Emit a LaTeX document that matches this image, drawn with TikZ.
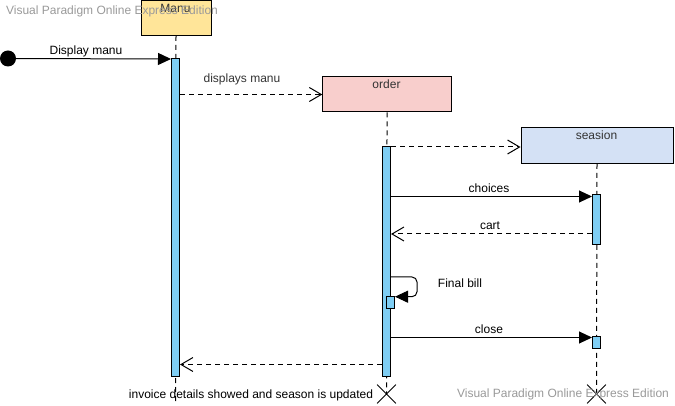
\documentclass[tikz,border=0pt]{standalone}
\usepackage{fontspec}
\setmainfont{Liberation Sans}
\usetikzlibrary{arrows.meta,shapes.misc}
\definecolor{manuyellow}{HTML}{FFE599}
\definecolor{orderpink}{HTML}{F8CECC}
\definecolor{seasonblue}{HTML}{D4E1F5}
\definecolor{barblue}{HTML}{7FCEF4}
\definecolor{wmgray}{HTML}{999999}
\definecolor{labgray}{HTML}{333333}
\begin{document}
\begin{tikzpicture}[x=1pt,y=-1pt,
  box/.style={draw=black, line width=1pt, anchor=north west, inner sep=0pt},
  bar/.style={draw=black, line width=1pt, fill=barblue, anchor=north, minimum width=8pt, inner sep=0pt},
  lifeline/.style={draw=black, line width=1pt, dash pattern=on 5pt off 4pt},
  msg/.style={line width=1pt, -{Triangle[length=13pt,width=12pt]}},
  ret/.style={line width=1pt, dash pattern=on 5pt off 4pt, -{Straight Barb[length=12pt,width=14pt,line width=1pt]}},
  blab/.style={font=\fontsize{12}{14}\selectfont, text=black, inner sep=0pt},
  glab/.style={font=\fontsize{12}{14}\selectfont, text=labgray, inner sep=0pt},
  wm/.style={font=\fontsize{12}{14}\selectfont, text=wmgray, inner sep=0pt},
  xmark/.style={cross out, draw=black, line width=0.8pt, minimum size=18pt, inner sep=0pt}
]
\useasboundingbox (0,0) rectangle (675,406);

% y levels
\coordinate (yd) at (0,59);
\coordinate (y2) at (0,94.5);
\coordinate (y3) at (0,147);
\coordinate (y4) at (0,196.5);
\coordinate (y5) at (0,234);
\coordinate (y6) at (0,277);
\coordinate (y7) at (0,296.7);
\coordinate (y8) at (0,337.5);
\coordinate (y9) at (0,364.5);

% lifeline heads
\node[box, fill=manuyellow, minimum width=70pt, minimum height=34.5pt] (manu) at (140.5,0.5) {};
\node[glab] (manut) at (175.5,8) {Manu};
\node[box, fill=orderpink, minimum width=128.5pt, minimum height=35pt] (order) at (322.3,76.3) {};
\node[glab] (ordert) at (386.5,84) {order};
\node[box, fill=seasonblue, minimum width=152pt, minimum height=35.5pt] (season) at (520.5,127.3) {};
\node[glab] (seasont) at (596.5,135.5) {seasion};

% lifelines
\coordinate (manuend) at (175.5,402);
\coordinate (orderend) at (386.5,394);
\coordinate (seasonend) at (596.5,394);
\draw[lifeline] (manu.south) -- (manuend);
\draw[lifeline] (order.south) -- (orderend);
\draw[lifeline] (season.south) -- (seasonend);
\node[xmark] (xo) at (orderend) {};
\node[xmark] (xs) at (seasonend) {};

% activation bars
\node[bar, minimum height=318pt] (manubar) at (175.5,58) {};
\node[bar, minimum height=229.5pt] (orderbar) at (386.5,146.5) {};
\node[bar, minimum height=50pt] (seasonbar) at (596.5,194) {};
\node[bar, minimum height=12pt] (selfbox) at (390.5,296) {};
\node[bar, minimum height=12pt] (closebox) at (596.5,335.5) {};

% start
\node[circle, fill=black, minimum size=16pt, inner sep=0pt] (start) at (8,58.5) {};

% messages
\draw[msg] (start) -- (manubar.west |- yd);
\node[blab] (l1) at (86,51) {Display manu};

\draw[ret] (manubar.east |- y2) -- (order.west |- y2);
\node[glab] (l2) at (242,79) {displays manu};

\draw[ret] (orderbar.east |- y3) -- (season.west |- y3);

\draw[msg] (orderbar.east |- y4) -- (seasonbar.west |- y4);
\node[blab] (l4) at (489,188) {choices};

\draw[ret] (seasonbar.west |- y5) -- (orderbar.east |- y5);
\node[blab] (l5) at (490,226) {cart};

\coordinate (c1) at (417,277);
\coordinate (c2) at (417,296.7);
\draw[msg, rounded corners=5pt] (orderbar.east |- y6) -- (c1) -- (c2) -- (selfbox.east |- y7);
\node[blab] (l6) at (460,283) {Final bill};

\draw[msg] (orderbar.east |- y8) -- (closebox.west |- y8);
\node[blab] (l8) at (489,329) {close};

\draw[ret] (orderbar.west |- y9) -- (manubar.east |- y9);
\node[blab] (l9) at (251,395) {invoice details showed and season is updated};

% watermarks
\node[wm] (wm1) at (112,11) {Visual Paradigm Online Express Edition};
\node[wm] (wm2) at (563,394.5) {Visual Paradigm Online Express Edition};
\end{tikzpicture}
\end{document}
